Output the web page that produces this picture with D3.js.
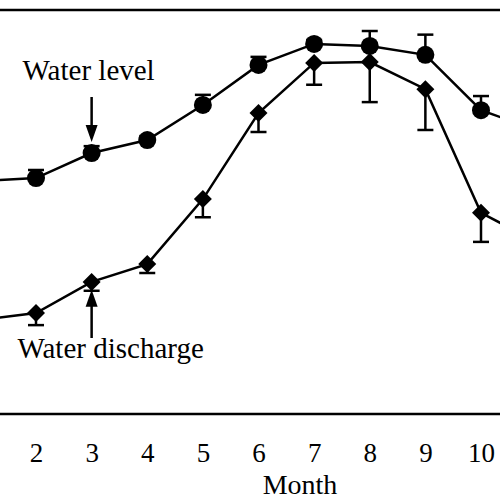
<!DOCTYPE html>
<html>
<head>
<meta charset="utf-8">
<script src="https://cdn.jsdelivr.net/npm/d3@7"></script>
<style>
  html, body { margin: 0; padding: 0; background: #fff; }
  svg { display: block; }
  text { font-family: "Liberation Serif", "Times New Roman", serif; fill: #000; }
</style>
</head>
<body>
<svg id="chart" width="500" height="500"></svg>
<script>
// ---- data (relative units, 0-100) ----
const months = [1, 2, 3, 4, 5, 6, 7, 8, 9, 10, 11];
const tickMonths = [2, 3, 4, 5, 6, 7, 8, 9, 10];
const waterLevel = [57.7, 58.4, 64.6, 67.8, 76.5, 86.4, 91.6, 91.1, 88.9, 75.2, 70.3];
const waterLevelErr = [2.0, 2.0, 1.7, 1.0, 2.5, 2.0, 1.0, 3.7, 5.0, 3.5, 2.0];
const discharge = [23.3, 25.0, 32.7, 37.1, 53.2, 74.5, 86.9, 87.1, 80.4, 49.8, 42.6];
const dischargeErr = [2.5, 3.0, 2.2, 2.2, 4.5, 4.7, 5.4, 9.9, 10.1, 7.2, 2.5];

const svg = d3.select("#chart");
const W = 500, H = 500;

const x = d3.scaleLinear().domain([2, 10]).range([36, 481]);
const y = d3.scaleLinear().domain([0, 100]).range([414, 10]);

const black = "#000";
const sw = 2.5;

// frame lines (top and bottom axis)
svg.append("line").attr("x1", 0).attr("x2", W).attr("y1", y(100)).attr("y2", y(100))
  .attr("stroke", black).attr("stroke-width", 2.5);

const xAxis = d3.axisBottom(x).tickValues(tickMonths).tickSize(0).tickPadding(0).tickFormat(d3.format("d"));
const gx = svg.append("g").attr("transform", `translate(0,${y(0)})`).call(xAxis);
gx.select(".domain").remove();
gx.selectAll("text").attr("font-size", 27).attr("dy", null).attr("y", 48)
  .style("font-family", '"Liberation Serif", "Times New Roman", serif');
svg.append("line").attr("x1", 0).attr("x2", W).attr("y1", y(0)).attr("y2", y(0))
  .attr("stroke", black).attr("stroke-width", 2.5);

svg.append("text").attr("x", 300).attr("y", 494).attr("text-anchor", "middle")
  .attr("font-size", 28).text("Month");

const line = d3.line().x((d, i) => x(months[i])).y(d => y(d));

function drawSeries(vals, errs, dir, shape) {
  const g = svg.append("g");
  g.append("path").datum(vals).attr("d", line).attr("fill", "none")
    .attr("stroke", black).attr("stroke-width", sw);
  // error bars (one-sided)
  vals.forEach((v, i) => {
    const cx = x(months[i]);
    const y0 = y(v), y1 = y(v + dir * errs[i]);
    g.append("line").attr("x1", cx).attr("x2", cx).attr("y1", y0).attr("y2", y1)
      .attr("stroke", black).attr("stroke-width", sw);
    g.append("line").attr("x1", cx - 8).attr("x2", cx + 8).attr("y1", y1).attr("y2", y1)
      .attr("stroke", black).attr("stroke-width", sw);
  });
  vals.forEach((v, i) => {
    const cx = x(months[i]), cy = y(v);
    if (shape === "circle") {
      g.append("circle").attr("cx", cx).attr("cy", cy).attr("r", 9).attr("fill", black);
    } else {
      const s = 9;
      g.append("path").attr("d", `M${cx},${cy - s}L${cx + s},${cy}L${cx},${cy + s}L${cx - s},${cy}Z`)
        .attr("fill", black);
    }
  });
}
drawSeries(waterLevel, waterLevelErr, 1, "circle");
drawSeries(discharge, dischargeErr, -1, "diamond");

// annotations
function arrow(xp, yFrom, yTo) {
  const dirn = yTo > yFrom ? 1 : -1;
  svg.append("line").attr("x1", xp).attr("x2", xp).attr("y1", yFrom).attr("y2", yTo - dirn * 10)
    .attr("stroke", black).attr("stroke-width", 2.5);
  svg.append("path")
    .attr("d", `M${xp - 6},${yTo - dirn * 17}L${xp + 6},${yTo - dirn * 17}L${xp},${yTo}Z`)
    .attr("fill", black);
}
const ax = x(3);
svg.append("text").attr("x", ax - 3).attr("y", 80).attr("text-anchor", "middle")
  .attr("font-size", 29).text("Water level");
arrow(ax, 97, y(waterLevel[2]) - 11);

svg.append("text").attr("x", ax + 19).attr("y", 358).attr("text-anchor", "middle")
  .attr("font-size", 29).text("Water discharge");
arrow(ax, 338, y(discharge[2] - dischargeErr[2]) - 1);
</script>
</body>
</html>
